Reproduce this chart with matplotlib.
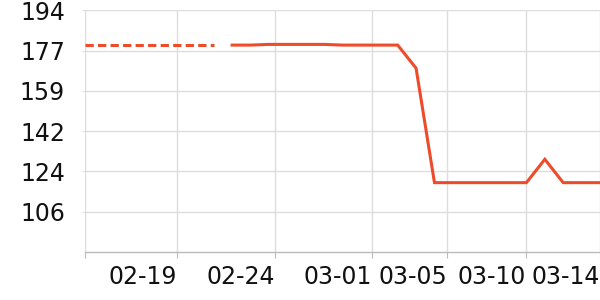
import matplotlib
matplotlib.use("Agg")
import matplotlib.pyplot as plt
import numpy as np

# data (index = day position along the category axis)
forecast_vals = [178.8, 178.8, 178.8, 178.8, 178.8, 178.8, 178.8, 178.8]
actual_vals = [178.8, 178.8, 179.1, 179.1, 179.1, 179.1, 178.8, 178.8, 178.8, 178.8,
               168.7, 118.7, 118.7, 118.7, 118.7, 118.7, 118.7, 128.9, 118.7, 118.7, 118.7]
x_labels = ["02-19", "02-24", "03-01", "03-05", "03-10", "03-14"]
y_labels = ["106", "124", "142", "159", "177", "194"]

color = "#EE4B2B"

fig = plt.figure(figsize=(6, 3), dpi=100)
ax = fig.add_axes([85/600, 1 - 252/300, 1 - 85/600, (252 - 10.3)/300])

n_f = len(forecast_vals)
xf = np.arange(n_f)
xa = np.arange(n_f, n_f + len(actual_vals))
ax.plot(xf, forecast_vals, color=color, lw=2.2, dashes=(2.7, 1.4), solid_capstyle='butt', dash_capstyle='butt', zorder=3)
ax.plot(xa, actual_vals, color=color, lw=2.2, zorder=3, solid_joinstyle='miter')

last = n_f + len(actual_vals) - 1
ax.set_xlim(0, last)
ymin, ymax = 88.4, 194.0
ax.set_ylim(ymin, ymax)

yt = np.linspace(ymin, ymax, 7)[1:]
ax.set_yticks(yt)
ax.set_yticklabels(y_labels)

xt = [0, 5.0, 10.33, 15.58, 19.69, 23.97, last]
ax.set_xticks(xt)
ax.set_xticklabels([""] + x_labels, ha='right')

ax.grid(True, color="#dddddd", lw=1)
ax.set_axisbelow(True)
for s in ["top", "right", "left"]:
    ax.spines[s].set_visible(False)
ax.spines["bottom"].set_color("#bbbbbb")
ax.spines["bottom"].set_linewidth(1)
ax.tick_params(axis='y', length=2, color="#dddddd", pad=12.5, labelsize=17, labelcolor="#111111")
ax.tick_params(axis='x', length=4, color="#bbbbbb", pad=5, labelsize=17, labelcolor="#111111")

fig.savefig("out.png", dpi=100)
